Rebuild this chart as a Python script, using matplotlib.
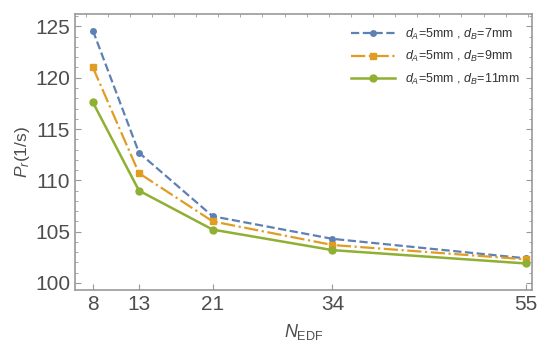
import matplotlib
matplotlib.use("Agg")
import matplotlib.pyplot as plt
from matplotlib.ticker import MultipleLocator

# data
n_edf = [8, 13, 21, 34, 55]
rate_b7 = [124.6, 112.7, 106.5, 104.3, 102.4]
rate_b9 = [121.0, 110.7, 106.0, 103.7, 102.3]
rate_b11 = [117.6, 109.0, 105.2, 103.2, 101.9]
labels = [r"$d_A$=5mm , $d_B$=7mm",
          r"$d_A$=5mm , $d_B$=9mm",
          r"$d_A$=5mm , $d_B$=11mm"]
xticks = [8, 13, 21, 34, 55]

plt.rcParams['font.family'] = ['Liberation Sans', 'DejaVu Sans']
plt.rcParams['mathtext.fontset'] = 'custom'
plt.rcParams['mathtext.it'] = 'Liberation Sans:italic'
plt.rcParams['mathtext.rm'] = 'Liberation Sans'

grey = '#4d4d4d'
fig = plt.figure(figsize=(5.39, 3.45), dpi=100)
ax = fig.add_axes([0.139, 0.159, 0.848, 0.80])

ax.plot(n_edf, rate_b7, color='#5E81B5', ls='--', marker='o', ms=4, lw=1.6, label=labels[0])
ax.plot(n_edf, rate_b9, color='#E19C24', ls='-.', marker='s', ms=4.5, lw=1.6, label=labels[1])
ax.plot(n_edf, rate_b11, color='#8FB032', ls='-', marker='o', ms=5, lw=1.8, label=labels[2])

ax.set_xlim(6.05, 55.65)
ax.set_ylim(99.3, 126.2)
ax.set_xticks(xticks)
ax.yaxis.set_major_locator(MultipleLocator(5))
ax.yaxis.set_minor_locator(MultipleLocator(1))
ax.xaxis.set_minor_locator(MultipleLocator(2.4))

for s in ax.spines.values():
    s.set_color('#999999')
    s.set_linewidth(1.2)
ax.tick_params(which='both', colors='#999999', labelcolor=grey, labelsize=15, direction='in')
ax.tick_params(which='major', length=4)
ax.tick_params(which='minor', length=2)
ax.tick_params(axis='x', which='minor', bottom=False, top=True)
ax.tick_params(axis='y', right=True, which='both')

ax.set_ylabel(r"$P_r$(1/s)", color=grey, fontsize=12.5, labelpad=2)
ax.set_xlabel(r"$N_{\mathrm{EDF}}$", color=grey, fontsize=13, labelpad=6)

leg = ax.legend(loc='upper right', frameon=False, fontsize=9, handlelength=3.5,
                borderaxespad=0.6, labelspacing=0.6)
for t in leg.get_texts():
    t.set_color('#333333')

fig.savefig('out.png', dpi=100)
